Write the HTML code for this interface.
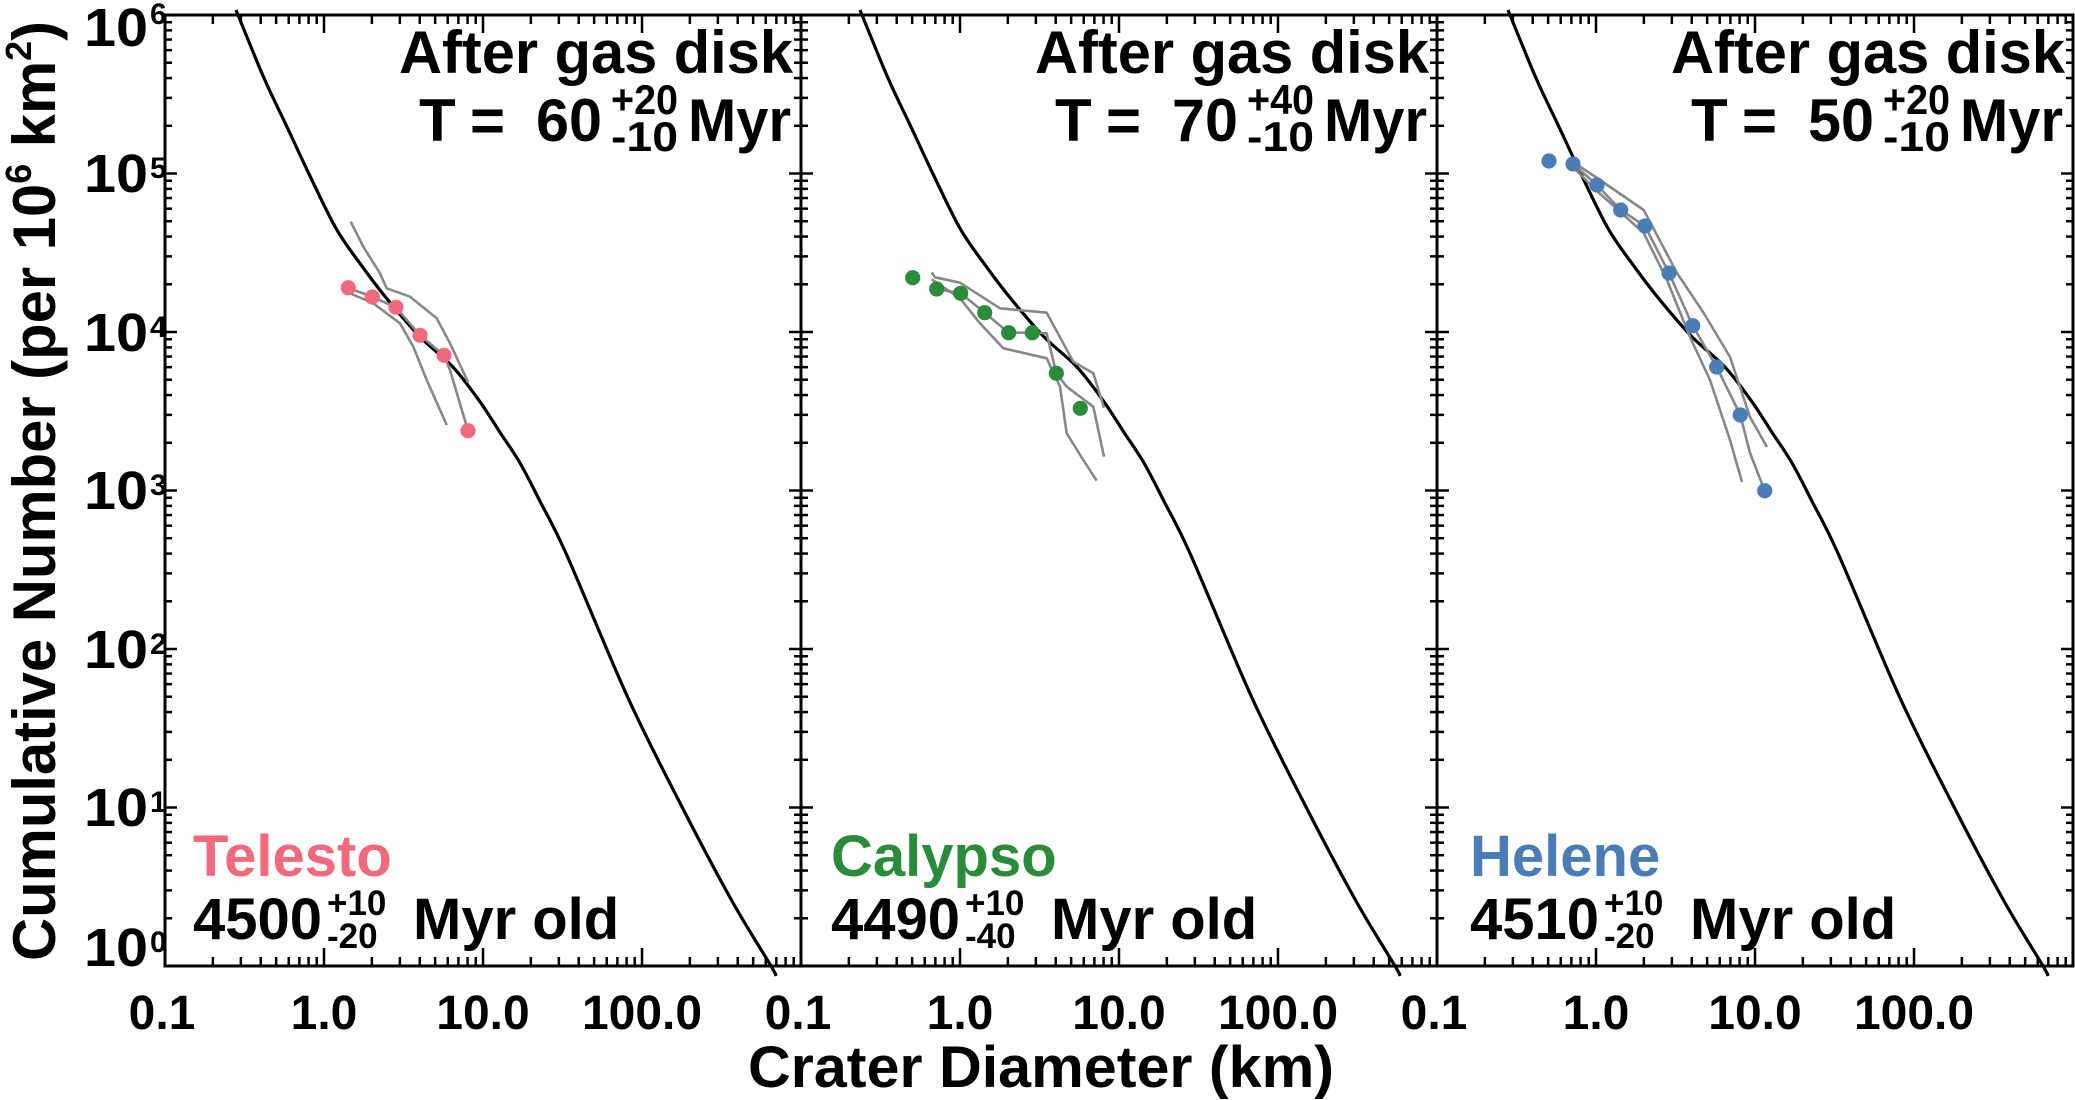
<!DOCTYPE html>
<html><head><meta charset="utf-8"><style>
html,body{margin:0;padding:0;background:#fff}
svg{display:block;overflow:hidden}
text{font-family:"Liberation Sans",Arial,sans-serif;font-weight:bold}
</style></head><body>
<svg id="s" width="2075" height="1100" viewBox="0 0 2075 1100" xmlns="http://www.w3.org/2000/svg">
<g id="ticks" stroke="#000" stroke-width="2.5"></g>
<g fill="none" stroke="#000" stroke-width="3">
<rect x="165" y="15" width="1908" height="951"/>
<line x1="801" y1="15" x2="801" y2="966"/>
<line x1="1437" y1="15" x2="1437" y2="966"/>
</g>
<defs>
<path id="curve" d="" fill="none" stroke="#000" stroke-width="3.2" stroke-linejoin="round"/>
</defs>
<use href="#curve"/>
<use href="#curve" transform="translate(624,0)"/>
<use href="#curve" transform="translate(1272,0)"/>
<g fill="none" stroke="#888" stroke-width="2.6" stroke-linejoin="round">
<polyline points="350.7,221.7 363.3,246.7 380,273.3 386.7,288.3 410,296.7 436.7,318.3 450,343.3 468.3,382.7"/>
<polyline points="350,293.3 373.3,303.3 400,323.3 413.3,346.7 426.7,380 446.7,425"/>
<polyline points="348.3,287.7 372.3,297 396,307.3 420,335.3 444,355.3 450,370 468,430.7"/>
<polyline points="931.7,272.3 935,277.3 960,282.7 1000,308.3 1046.7,312.7 1073.3,361.7 1093.3,373.3 1104,407.7"/>
<polyline points="931.7,279.3 960,298.3 980,323.3 1003.3,348.3 1046.7,358.3 1060,386.7 1066.7,433.3 1083.3,460 1096.7,480.7"/>
<polyline points="936.7,289 960.7,293.3 984.7,312.7 1008.7,332.7 1032.3,332.7 1046.7,333.3 1056.3,373.3 1066.7,386.7 1093.3,406.7 1104,456.7"/>
<polyline points="1573,162 1597,178 1643.7,210 1677,273 1703.7,313 1730,357 1750,417 1767,447"/>
<polyline points="1573,167 1593.7,188 1643.7,233 1667,280 1690,337 1710,380 1730,440 1742,482"/>
<polyline points="1573,164 1597,185 1620.7,210 1645,226 1669,273 1692.7,325.7 1716.7,367 1740.3,415 1750,453 1764.7,490.7"/>
</g>
<g fill="#F06A7C">
<circle cx="348.3" cy="287.7" r="7.6"/><circle cx="372.3" cy="297" r="7.6"/><circle cx="396" cy="307.3" r="7.6"/><circle cx="420" cy="335.3" r="7.6"/><circle cx="444" cy="355.3" r="7.6"/><circle cx="468" cy="430.7" r="7.6"/>
</g>
<g fill="#2A8C3A">
<circle cx="912.7" cy="277.7" r="7.6"/><circle cx="936.7" cy="289" r="7.6"/><circle cx="960.7" cy="293.3" r="7.6"/><circle cx="984.7" cy="312.7" r="7.6"/><circle cx="1008.7" cy="332.7" r="7.6"/><circle cx="1032.3" cy="332.7" r="7.6"/><circle cx="1056.3" cy="373.3" r="7.6"/><circle cx="1080.3" cy="408.3" r="7.6"/>
</g>
<g fill="#4A7DB5">
<circle cx="1549" cy="161" r="7.6"/><circle cx="1573" cy="164" r="7.6"/><circle cx="1597" cy="185" r="7.6"/><circle cx="1620.7" cy="210" r="7.6"/><circle cx="1645" cy="226" r="7.6"/><circle cx="1669" cy="273" r="7.6"/><circle cx="1692.7" cy="325.7" r="7.6"/><circle cx="1716.7" cy="367" r="7.6"/><circle cx="1740.3" cy="415" r="7.6"/><circle cx="1764.7" cy="490.7" r="7.6"/>
</g>
<g font-size="54" text-anchor="end">
<text x="148" y="46" textLength="64" lengthAdjust="spacingAndGlyphs">10</text>
<text x="148" y="192" textLength="64" lengthAdjust="spacingAndGlyphs">10</text>
<text x="148" y="351" textLength="64" lengthAdjust="spacingAndGlyphs">10</text>
<text x="148" y="509" textLength="64" lengthAdjust="spacingAndGlyphs">10</text>
<text x="148" y="668" textLength="64" lengthAdjust="spacingAndGlyphs">10</text>
<text x="148" y="826" textLength="64" lengthAdjust="spacingAndGlyphs">10</text>
<text x="148" y="966" textLength="64" lengthAdjust="spacingAndGlyphs">10</text>
</g>
<g font-size="30">
<text x="150" y="24">6</text>
<text x="150" y="178">5</text>
<text x="150" y="337">4</text>
<text x="150" y="495">3</text>
<text x="150" y="654">2</text>
<text x="150" y="812">1</text>
<text x="150" y="952">0</text>
</g>
<g font-size="48" text-anchor="middle">
<text x="162" y="1029">0.1</text><text x="324" y="1029">1.0</text><text x="483" y="1029">10.0</text><text x="642" y="1029">100.0</text>
<text x="798" y="1029">0.1</text><text x="960" y="1029">1.0</text><text x="1119" y="1029">10.0</text><text x="1278" y="1029">100.0</text>
<text x="1434" y="1029">0.1</text><text x="1596" y="1029">1.0</text><text x="1755" y="1029">10.0</text><text x="1914" y="1029">100.0</text>
</g>
<text x="1041" y="1087" font-size="58" text-anchor="middle" textLength="586" lengthAdjust="spacingAndGlyphs">Crater Diameter (km)</text>
<text transform="translate(55,491) rotate(-90)" font-size="60" text-anchor="middle" textLength="940" lengthAdjust="spacingAndGlyphs">Cumulative Number (per 10<tspan font-size="36" dy="-24">6</tspan><tspan dy="24"> km</tspan><tspan font-size="36" dy="-24">2</tspan><tspan dy="24">)</tspan></text>
<g>
<text x="399" y="73" font-size="60" textLength="394" lengthAdjust="spacingAndGlyphs">After gas disk</text>
<text x="419" y="141" font-size="60">T</text>
<text x="470" y="141" font-size="60">=</text>
<text x="536" y="141" font-size="60" textLength="66" lengthAdjust="spacingAndGlyphs">60</text>
<text x="611" y="114" font-size="42" textLength="67" lengthAdjust="spacingAndGlyphs">+20</text>
<text x="611" y="151" font-size="42" textLength="67" lengthAdjust="spacingAndGlyphs">-10</text>
<text x="688" y="141" font-size="60" textLength="103" lengthAdjust="spacingAndGlyphs">Myr</text>
<text x="193" y="876" font-size="58" fill="#F06A7C">Telesto</text>
<text x="193" y="939" font-size="58">4500</text>
<text x="327" y="915" font-size="35">+10</text>
<text x="327" y="948" font-size="35">-20</text>
<text x="413" y="939" font-size="58">Myr old</text>
</g>
<g transform="translate(636,0)">
<text x="399" y="73" font-size="60" textLength="394" lengthAdjust="spacingAndGlyphs">After gas disk</text>
<text x="419" y="141" font-size="60">T</text>
<text x="470" y="141" font-size="60">=</text>
<text x="536" y="141" font-size="60" textLength="66" lengthAdjust="spacingAndGlyphs">70</text>
<text x="611" y="114" font-size="42" textLength="67" lengthAdjust="spacingAndGlyphs">+40</text>
<text x="611" y="151" font-size="42" textLength="67" lengthAdjust="spacingAndGlyphs">-10</text>
<text x="688" y="141" font-size="60" textLength="103" lengthAdjust="spacingAndGlyphs">Myr</text>
<text x="195" y="876" font-size="58" fill="#2A8C3A">Calypso</text>
<text x="195" y="939" font-size="58">4490</text>
<text x="329" y="915" font-size="35">+10</text>
<text x="329" y="948" font-size="35">-40</text>
<text x="415" y="939" font-size="58">Myr old</text>
</g>
<g transform="translate(1272,0)">
<text x="399" y="73" font-size="60" textLength="394" lengthAdjust="spacingAndGlyphs">After gas disk</text>
<text x="419" y="141" font-size="60">T</text>
<text x="470" y="141" font-size="60">=</text>
<text x="536" y="141" font-size="60" textLength="66" lengthAdjust="spacingAndGlyphs">50</text>
<text x="611" y="114" font-size="42" textLength="67" lengthAdjust="spacingAndGlyphs">+20</text>
<text x="611" y="151" font-size="42" textLength="67" lengthAdjust="spacingAndGlyphs">-10</text>
<text x="688" y="141" font-size="60" textLength="103" lengthAdjust="spacingAndGlyphs">Myr</text>
<text x="198" y="876" font-size="58" fill="#4A7DB5">Helene</text>
<text x="198" y="939" font-size="58">4510</text>
<text x="332" y="915" font-size="35">+10</text>
<text x="332" y="948" font-size="35">-20</text>
<text x="418" y="939" font-size="58">Myr old</text>
</g>
</svg>
<script>
(function(){
var g=document.getElementById('ticks'),h='';
var L=[165,801,1437],W=636,top=15,bot=966,dx=W/4,dy=(bot-top)/6;
function ln(a,b,c,d){h+='<line x1="'+a+'" y1="'+b+'" x2="'+c+'" y2="'+d+'"/>';}
for(var p=0;p<3;p++){
 var x0=L[p];
 for(var d=0;d<4;d++){for(var k=1;k<10;k++){
  var x=x0+dx*(d+Math.log10(k));
  var len=(k==1)?18:9;
  if(k==1&&d==0)continue;
  ln(x,bot,x,bot-len);ln(x,top,x,top+len);
 }}
}
var ax=[165,801,1437,2073];
for(var i=0;i<4;i++){
 var x=ax[i];
 for(var d=0;d<6;d++){for(var k=1;k<10;k++){
  var y=bot-dy*(d+Math.log10(k));
  var len=(k==1)?12:7;
  if(i<3)ln(x,y,x+len,y);
  if(i>0)ln(x,y,x-len,y);
 }}
 ln(x,top,x+(i<3?12:-12),top);
}
g.innerHTML=h;
var P=[[236,10],[263.3,76.5],[286.7,126.3],[310,176],[336.7,229.6],[363.3,267.9],[386.7,298.5],[420,336.8],[453.3,367.4],[480,401.8],[500,432.4],[520,463],[540,501.3],[566.7,554.9],[627.6,697],[680,803],[732,901],[771,966],[776,976]];
var s='M'+P[0][0]+','+P[0][1];
for(var i=0;i<P.length-1;i++){
 var p0=P[Math.max(i-1,0)],p1=P[i],p2=P[i+1],p3=P[Math.min(i+2,P.length-1)];
 var c1=[p1[0]+(p2[0]-p0[0])/6,p1[1]+(p2[1]-p0[1])/6];
 var c2=[p2[0]-(p3[0]-p1[0])/6,p2[1]-(p3[1]-p1[1])/6];
 s+=' C'+c1[0].toFixed(1)+','+c1[1].toFixed(1)+' '+c2[0].toFixed(1)+','+c2[1].toFixed(1)+' '+p2[0]+','+p2[1];
}
document.getElementById('curve').setAttribute('d',s);
})();
</script>
</body></html>
